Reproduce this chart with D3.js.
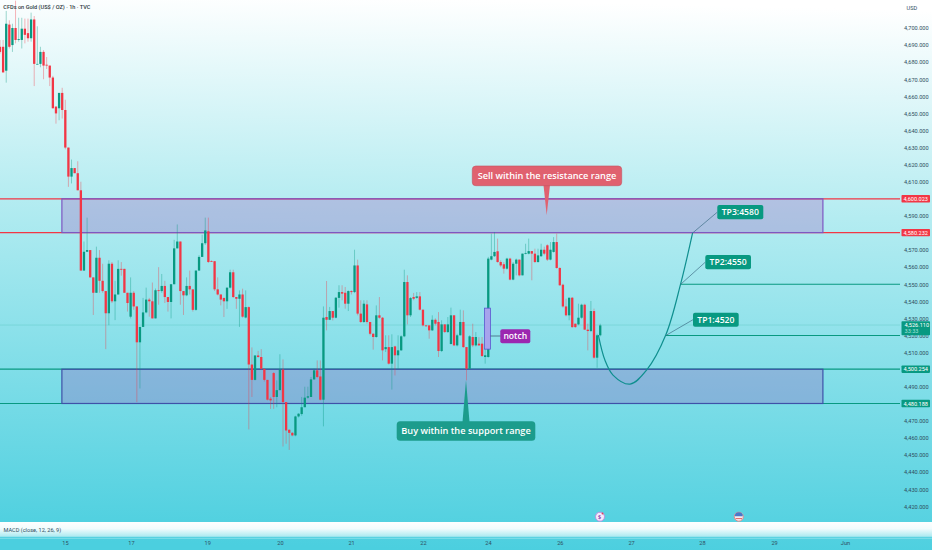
<!DOCTYPE html>
<meta charset="utf-8">
<style>
  html, body { margin: 0; padding: 0; }
  svg { display: block; font-family: "Open Sans", sans-serif; }
  .axis text { font-family: Roboto, sans-serif; font-size: 5.6px; fill: #2f4f5f; }
  .axis path, .axis line { display: none; }
</style>
<svg width="932" height="550"></svg>
<script src="https://d3js.org/d3.v7.min.js"></script>
<script>

    // hourly candles
    var opens = [4689,4689,4675,4702,4690,4700,4693,4693,4699.6,4697,4694,4705,4679,4679,4686,4678.5,4678,4671,4654,4653,4662,4652,4630,4613,4618,4615,
        4605,4558,4569,4570,4554,4545,4565.5,4552,4546,4533,4562,4540,4544,4559,4559,4545,4531,4545,4537,4516,4525,4533.5,4541,4540,4530,4546.5,4546,4549,4542.5,4539.6,4550,4571,4575,4546,4543.5,4549,4547,4535,4558,4566,4574,4581,4563.5,4563.5,4547,4544,4542,4540,4548,4557,4542.5,4541.5,4544,4530.5,4536.6,4503,4494,4508.3,4507.4,4500.5,4494,4483,4498,4484,4488,4500,4481,4464.8,4463,4461.5,4472.6,4474,4478,4483.6,4484,4494.3,4499.6,4496,4482.4,
        4530.8,4529.2,4534.3,4530.4,4542,4545.4,4545,4538.6,4546,4545.4,4561,4532.8,4527.9,4538.2,4527.9,4521,4519.1,4531.8,4530.4,4512,4513.2,4503.5,4513.6,4508.4,4511.3,4519.5,4551.3,4531.8,4542.5,4542,4542.9,4535.1,4525.9,4525.9,4523,4529.2,4527.9,4510.9,4526.5,4522,4515,4531.8,4514.2,4520.1,4527.9,4513.2,4500.5,4519.1,4514.2,4515.2,4515.2,4507.4,4507.4,
        4564.4,4566.4,4569.3,4563,4561.7,4559.1,4565,4552.7,4562,4564.4,4555.2,4567.9,4567.9,4569.4,4567.9,4563,4566.4,4570.2,4572.8,4564.4,4568.9,4574.7,4559.5,4549.7,4537,4531.8,4542.1,4526.9,4526.5,4530.4,4538,4523.4,4522.6,4534.3,4507,4520.1];
    var highs = [4693,4693,4710,4704.5,4702.5,4716,4706,4706,4705.5,4705.5,4709,4707,4701,4689,4687,4683,4678,4672,4654,4662,4665,4658,4630,4623,4618,4622,
        4610,4575,4589,4570,4554,4572,4570,4562,4546,4564,4563,4552,4564,4563,4559,4545,4554,4546,4537,4525,4542,4548,4542,4551,4547.5,4560,4556,4552,4542.5,4550,4576,4585,4575,4546,4554,4558,4547,4558,4567,4579,4589,4589,4564,4563.5,4554,4544,4542,4548,4558.5,4558.5,4542.5,4546.4,4547.4,4546.4,4537,4513,4508.3,4511,4512,4500.5,4494,4484,4498.6,4493.7,4509,4506,4481,4465,4463.5,4473,4474.5,4484,4490,4490,4495.7,4500.5,4505.4,4505.4,4537,
        4551.9,4536.7,4534.3,4542.5,4549.4,4549.4,4548.4,4546.4,4546.4,4570.2,4564.4,4540.6,4540.6,4540.6,4527.9,4521.4,4537.6,4542.5,4530.8,4520.1,4520.1,4520.7,4514,4520.1,4520.1,4558.5,4555.2,4542.5,4544.9,4545.4,4545.4,4535.1,4526,4525.9,4531.8,4530,4533.7,4528.9,4526.5,4530.8,4536.3,4531.8,4521,4535.1,4534.7,4513.2,4520.1,4526.9,4522,4519,4519.1,4515.2,4566,
        4579.6,4580.6,4576.7,4564,4563,4565.5,4565.5,4563,4565,4564.4,4567.9,4573.7,4576.7,4569.4,4570.8,4570.8,4573.7,4572,4573.4,4574.7,4577.6,4579.6,4560,4550.3,4541.5,4542.1,4542.5,4526.9,4538.6,4538.6,4538.6,4526.9,4540.2,4535.7,4521,4526.9];
    var lows = [4685,4674,4668,4688,4686,4691,4692,4688,4691,4692,4692,4666,4679,4677,4670,4676,4666,4653,4644,4646,4647,4629,4607,4609,4615,4605,
        4558,4558,4569,4554,4532,4545,4545,4545,4512,4526,4539,4529,4544,4555,4545,4534,4530,4535,4481,4489,4525,4533,4531,4530,4530,4538,4545,4539,4534,4530,4550,4571,4538,4532,4543,4544,4534,4534.5,4558,4566,4573,4562.5,4563,4546,4543.5,4537.6,4530.8,4535.6,4547.5,4542,4535.6,4525,4530.4,4530,4465,4484,4493.7,4507,4500,4493,4482,4477,4477,4478,4488,4455,4456.6,4453,4461,4461,4472,4473,4478,4483,4484,4494,4495,4482,4466.8,
        4523,4529,4528.8,4530,4536.3,4540.6,4535.7,4534.3,4544,4544.8,4531.8,4527.3,4527.3,4526.9,4520.1,4511.7,4518.7,4529.8,4505.4,4510.3,4503,4488.3,4496.6,4500.5,4511,4519,4526.5,4530.8,4540.6,4541.5,4534.7,4525.3,4525,4518.1,4522.6,4525.9,4507.4,4510.3,4521.5,4521.5,4514.8,4513.8,4513.6,4520,4512.8,4493.7,4500.5,4513.2,4513.6,4514,4507.4,4503.5,4507,
        4564,4566,4562.6,4560,4556.2,4558.5,4552.3,4552.3,4555.2,4554.6,4555.2,4567.5,4567.5,4552.3,4562.4,4562.6,4566,4567,4563.6,4564,4568.5,4559.1,4549,4536.3,4531.2,4528.9,4524.5,4524.5,4526,4529.8,4523.4,4511.3,4522,4506.4,4501.1,4519.5];
    var closes = [4686,4674,4702.5,4689,4700,4693,4693.5,4699.6,4696,4694,4705,4679,4679,4686,4678,4678,4671,4653,4650,4662,4652,4630,4613,4618,4615,4605,
        4558,4569,4570,4554,4545,4565.5,4552,4546,4533,4562,4540,4544,4559,4558.5,4545,4539,4545,4537,4516,4525,4533.5,4541,4540,4530,4546.5,4546,4549,4542.5,4539.6,4550,4571,4575,4546,4543.5,4549,4547,4535,4558,4566,4574,4581.5,4563,4563.3,4547,4544,4541,4540,4548,4557,4542.5,4541.5,4544,4531,4536.6,4503,4494,4508.3,4507.4,4500.5,4494,4482.4,4482,4484,4488,4500,4481,4464.4,4463,4461.5,4472.6,4474.2,4478,4483.6,4484.4,4494.3,4499.6,4495.7,4482.4,4530.4,
        4529.2,4534.3,4530.4,4542.1,4545.4,4544.5,4538.6,4546,4545.4,4561,4532.8,4527.9,4538.6,4527.9,4521,4519.1,4531.8,4530.4,4511.3,4513.2,4503.5,4513.2,4508.4,4511.3,4519.5,4551.3,4531.8,4541.9,4541.5,4542.9,4535.1,4525.9,4525.5,4523,4529.2,4526.9,4510.9,4526.5,4522,4526.5,4531.8,4514.2,4520.1,4527.9,4513.2,4500.5,4519.5,4514.2,4519.1,4514.2,4508,4508.4,4565,
        4566.4,4568.9,4563,4561,4559.1,4565,4552.7,4562,4564.4,4555.2,4567.9,4568.3,4569.4,4567.9,4563,4566.9,4570.2,4567.9,4564.4,4570.2,4574.7,4559.5,4549.4,4537,4531.8,4542.1,4524.9,4524.9,4530.4,4538,4523.4,4522.6,4534.3,4507,4520.1,4525.9];

    // projected path after the last candle, bar number and price
    var pathBars = [192.4,194.5,197.1,202.6,207.9,214.1,218.9,222.7];
    var pathPrices = [4520.2,4505.6,4496.8,4491.5,4499.7,4520.4,4550.5,4580.1];

    var priceTicks = d3.range(4420, 4701, 10);
    var dayBars = [20.9,42.1,66.6,90,112.9,136,156.9,180,202.9,225.7,248.9,271.7];
    var dayLabels = ["15","17","19","20","21","22","24","26","27","28","29","Jun"];

    var zonePrices = [[4600.023, 4580.232], [4500.254, 4480.188]];
    var zoneBars = [19.9, 264.6];
    var levels = [4600.023, 4580.232, 4500.254, 4480.188];
    var levelNames = ["4,600.023", "4,580.232", "4,500.254", "4,480.188"];
    var levelColors = ["#f23645", "#f23645", "#089981", "#089981"];
    var targets = ["TP1:4520", "TP2:4550", "TP3:4580"];
    var targetPrices = [4520, 4550, 4580];
    var targetBars = [214.1, 218.9, 222.7];
    var lastPrice = 4526.11;

    var svg = d3.select("svg"),
        width = +svg.attr("width"),
        height = +svg.attr("height");

    var x = d3.scaleLinear().domain([0, 100]).range([0, 311]);
    var y = d3.scaleLinear().domain([4420, 4700]).range([506.3, 28]);
    var axisX = 900;

    var defs = svg.append("defs");
    var bg = defs.append("linearGradient").attr("id", "bg")
        .attr("x1", "0.52").attr("y1", "0").attr("x2", "0.48").attr("y2", "1");
    bg.append("stop").attr("offset", "0").attr("stop-color", "#ffffff");
    bg.append("stop").attr("offset", "0.38").attr("stop-color", "#b4ecf1");
    bg.append("stop").attr("offset", "1").attr("stop-color", "#4bcfdf");
    var pane = defs.append("linearGradient").attr("id", "pane")
        .attr("x1", "0").attr("y1", "0").attr("x2", "0").attr("y2", "1");
    pane.append("stop").attr("offset", "0").attr("stop-color", "#ffffff");
    pane.append("stop").attr("offset", "0.45").attr("stop-color", "#f2fcfd");
    pane.append("stop").attr("offset", "1").attr("stop-color", "#a9e9f0");

    svg.append("rect").attr("width", width).attr("height", height).attr("fill", "url(#bg)");

    // last price line
    svg.append("line")
        .attr("x1", 0).attr("x2", axisX)
        .attr("y1", y(lastPrice)).attr("y2", y(lastPrice))
        .attr("stroke", "#089981").attr("stroke-opacity", 0.25).attr("stroke-width", 0.6);

    // levels on both sides of the zones
    svg.append("g").selectAll("line")
        .data(levels)
        .join("line")
        .attr("x1", 0).attr("x2", axisX)
        .attr("y1", function(d) {return y(d)})
        .attr("y2", function(d) {return y(d)})
        .attr("stroke", function(d, i) {return levelColors[i]})
        .attr("stroke-width", 1.2);

    // support and resistance zones
    svg.append("g").selectAll("rect")
        .data(zonePrices)
        .join("rect")
        .attr("x", x(zoneBars[0]))
        .attr("width", x(zoneBars[1]) - x(zoneBars[0]))
        .attr("y", function(d) {return y(d[0])})
        .attr("height", function(d) {return y(d[1]) - y(d[0])})
        .attr("fill", "#9c40b4")
        .attr("fill-opacity", 0.25)
        .attr("stroke", function(d, i) {return i ? "#3f51a8" : "#7e57c2"})
        .attr("stroke-width", 1.2);

    // candles
    var candles = d3.range(opens.length);
    var color = function(i) {return closes[i] >= opens[i] ? "#089981" : "#f23645"};
    var g = svg.append("g");
    g.selectAll("line")
        .data(candles)
        .join("line")
        .attr("x1", function(i) {return x(i)})
        .attr("x2", function(i) {return x(i)})
        .attr("y1", function(i) {return y(highs[i])})
        .attr("y2", function(i) {return y(lows[i])})
        .attr("stroke", color)
        .attr("stroke-opacity", 0.55)
        .attr("stroke-width", 0.7);
    g.selectAll("rect")
        .data(candles)
        .join("rect")
        .attr("x", function(i) {return x(i) - 1.15})
        .attr("width", 2.3)
        .attr("y", function(i) {return y(Math.max(opens[i], closes[i]))})
        .attr("height", function(i) {return Math.max(0.8, Math.abs(y(opens[i]) - y(closes[i])))})
        .attr("fill", color);

    // the gap that is marked as a notch
    svg.append("rect")
        .attr("x", 484.5).attr("y", y(4536)).attr("width", 6).attr("height", y(4512) - y(4536))
        .attr("fill", "#a7a4ec").attr("stroke", "#5a57d0").attr("stroke-width", 0.8);
    svg.append("line")
        .attr("x1", 490.5).attr("x2", 501).attr("y1", 336).attr("y2", 336)
        .attr("stroke", "#35506a").attr("stroke-width", 0.7);

    // target lines and path
    svg.append("g").selectAll("line")
        .data(targetPrices.slice(0, 2))
        .join("line")
        .attr("x1", function(d, i) {return x(targetBars[i])})
        .attr("x2", axisX)
        .attr("y1", function(d) {return y(d)})
        .attr("y2", function(d) {return y(d)})
        .attr("stroke", "#089981").attr("stroke-width", 1.2);

    var path = d3.line()
        .x(function(d) {return x(d)})
        .y(function(d, i) {return y(pathPrices[i])})
        .curve(d3.curveCatmullRom.alpha(0.5));
    svg.append("path")
        .attr("d", path(pathBars))
        .attr("fill", "none")
        .attr("stroke", "#0f8f8f")
        .attr("stroke-width", 1.2);

    function note(text, box, fill, size, weight) {
        svg.append("rect")
            .attr("x", box[0]).attr("y", box[1])
            .attr("width", box[2] - box[0]).attr("height", box[3] - box[1])
            .attr("rx", 2)
            .attr("fill", fill);
        svg.append("text")
            .attr("x", (box[0] + box[2]) / 2)
            .attr("y", (box[1] + box[3]) / 2)
            .attr("dy", "0.36em")
            .attr("text-anchor", "middle")
            .attr("fill", "#ffffff")
            .attr("font-size", size)
            .attr("font-weight", weight)
            .text(text);
    }

    // TP boxes with leaders
    var tpBoxes = [[693, 312.7, 738.7, 326.7], [705.3, 255, 751, 269.3], [717.3, 205, 763.3, 219.3]];
    targets.forEach(function(t, i) {
        svg.append("line")
            .attr("x1", x(targetBars[i])).attr("y1", y(targetPrices[i]))
            .attr("x2", tpBoxes[i][0]).attr("y2", (tpBoxes[i][1] + tpBoxes[i][3]) / 2)
            .attr("stroke", "#3d6f86").attr("stroke-width", 0.7);
        note(t, tpBoxes[i], "#089981", 8.6, 600);
    });
    note("notch", [500.3, 329.3, 530.3, 343.3], "#9c27b0", 8.6, 600);

    // callouts
    svg.append("path")
        .attr("d", "M543.5,185 L546.7,215 L550,185 Z")
        .attr("fill", "#e0616f");
    svg.append("rect").attr("x", 472.3).attr("y", 166).attr("width", 149.4).attr("height", 19.7).attr("rx", 3.5)
        .attr("fill", "#e0616f").attr("stroke", "#c4515f").attr("stroke-width", 0.6);
    svg.append("text").attr("x", 547).attr("y", 175.9).attr("dy", "0.36em").attr("text-anchor", "middle")
        .attr("fill", "#ffffff").attr("font-size", 9.2).attr("font-weight", 600)
        .text("Sell within the resistance range");

    svg.append("path")
        .attr("d", "M462.5,422 L466,380 L469.5,422 Z")
        .attr("fill", "#1c9c8c");
    svg.append("rect").attr("x", 396.7).attr("y", 421.3).attr("width", 138.6).attr("height", 19.4).attr("rx", 3.5)
        .attr("fill", "#1c9c8c");
    svg.append("text").attr("x", 466).attr("y", 431).attr("dy", "0.36em").attr("text-anchor", "middle")
        .attr("fill", "#ffffff").attr("font-size", 9.2).attr("font-weight", 600)
        .text("Buy within the support range");

    // title
    svg.append("text").attr("x", 3.3).attr("y", 9.4)
        .attr("font-family", "Roboto, sans-serif").attr("font-size", 5.6).attr("font-weight", 500).attr("fill", "#2c3840")
        .text("CFDs on Gold (US$ / OZ) · 1h · TVC");

    // price axis
    svg.append("g")
        .attr("class", "axis")
        .attr("transform", "translate(" + axisX + ",0)")
        .call(d3.axisRight(y).tickValues(priceTicks).tickSize(0).tickPadding(4)
            .tickFormat(function(d) {return d3.format(",")(d) + ".000"}));
    svg.append("text").attr("class", "usd").attr("x", 906.5).attr("y", 9.5)
        .attr("font-family", "Roboto, sans-serif").attr("font-size", 5.6).attr("fill", "#2f4f5f").text("USD");

    // price tags
    levels.forEach(function(v, i) {
        svg.append("rect").attr("x", 901.5).attr("y", y(v) - 3.7).attr("width", 28.5).attr("height", 7.4)
            .attr("rx", 0.8).attr("fill", levelColors[i]);
        svg.append("text").attr("x", 915.7).attr("y", y(v)).attr("dy", "0.36em").attr("text-anchor", "middle")
            .attr("font-family", "Roboto, sans-serif").attr("font-size", 5.6).attr("fill", "#ffffff")
            .text(levelNames[i]);
    });
    svg.append("rect").attr("x", 901.5).attr("y", 321.3).attr("width", 28.5).attr("height", 14)
        .attr("rx", 0.8).attr("fill", "#089981");
    svg.append("text").attr("x", 904.5).attr("y", 326.8)
        .attr("font-family", "Roboto, sans-serif").attr("font-size", 5.6).attr("fill", "#ffffff").text("4,526.110");
    svg.append("text").attr("x", 904.5).attr("y", 333.2)
        .attr("font-family", "Roboto, sans-serif").attr("font-size", 5.6).attr("fill", "#a6e3d8").text("33:33");

    // MACD pane and time strip
    svg.append("rect").attr("x", 0).attr("y", 522).attr("width", width).attr("height", 14.8).attr("fill", "url(#pane)");
    svg.append("line").attr("x1", 0).attr("x2", width).attr("y1", 538.3).attr("y2", 538.3)
        .attr("stroke", "#8fe3ec").attr("stroke-width", 0.8);
    svg.append("text").attr("x", 3.5).attr("y", 532)
        .attr("font-family", "Roboto, sans-serif").attr("font-size", 5.6).attr("fill", "#2f4f5f")
        .text("MACD (close, 12, 26, 9)");

    svg.append("g")
        .attr("class", "axis")
        .attr("transform", "translate(0,538)")
        .call(d3.axisBottom(x).tickValues(dayBars).tickSize(0).tickPadding(3)
            .tickFormat(function(d, i) {return dayLabels[i]}));

    // economic event markers
    svg.append("circle").attr("cx", 600).attr("cy", 516.7).attr("r", 4.5)
        .attr("fill", "#f5ecfb").attr("stroke", "#b98ee0").attr("stroke-width", 1);
    svg.append("text").attr("x", 599.7).attr("y", 518.8).attr("text-anchor", "middle")
        .attr("font-size", 5.5).attr("font-weight", 700).attr("fill", "#8a3fb0").text("$");
    svg.append("circle").attr("cx", 602.5).attr("cy", 513.5).attr("r", 1).attr("fill", "#e0405f");
    svg.append("circle").attr("cx", 738.8).attr("cy", 516.7).attr("r", 4.5)
        .attr("fill", "#f6ecef").attr("stroke", "#e08a8a").attr("stroke-width", 1);
    svg.append("path").attr("d", "M734.8,516.2 A4,4 0 0 1 742.8,516.2 Z").attr("fill", "#4a78c8");
    svg.append("line").attr("x1", 735.5).attr("x2", 742).attr("y1", 518.6).attr("y2", 518.6)
        .attr("stroke", "#e05050").attr("stroke-width", 0.9);
</script>
